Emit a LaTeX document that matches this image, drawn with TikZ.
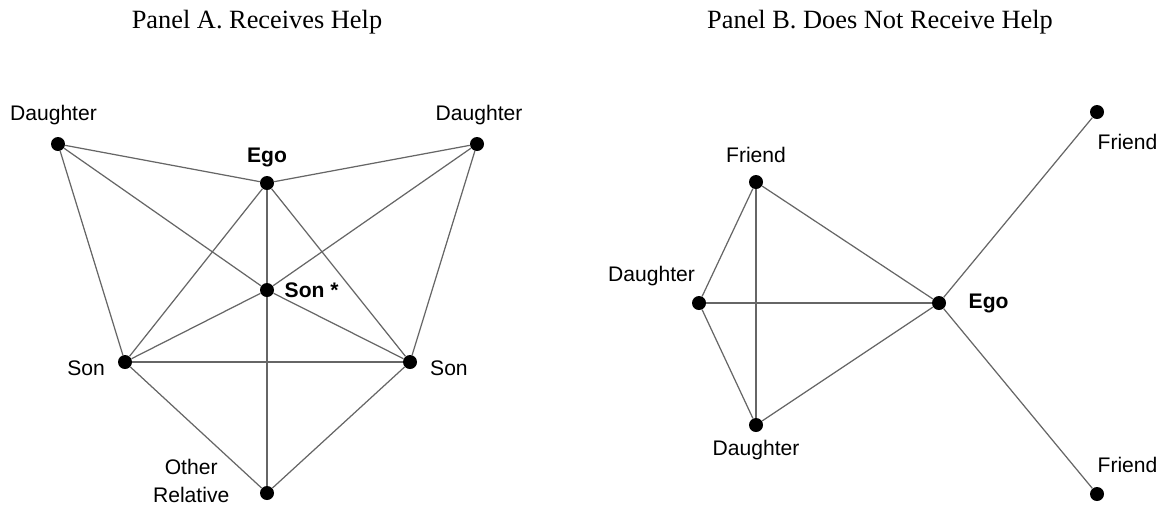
\documentclass[tikz,border=0pt]{standalone}
\usepackage{fontspec}
\setmainfont{Liberation Serif}
\newfontfamily\labelfont{Liberation Sans}
\usetikzlibrary{%
  positioning,
}

\begin{document}
\begin{tikzpicture}[%
           x=0.2mm, y=-0.2mm,
           person/.style={
             % The shape:
             circle,
             % The size:
             minimum size=2.8mm,
             inner sep=0pt,
             % The filling:
             fill=black,
           },
           tag/.style={
             inner sep=0pt,
             font=\labelfont\fontsize{12}{16}\selectfont,
           },
           boldtag/.style={
             tag,
             font=\labelfont\bfseries\fontsize{12}{16}\selectfont,
           },
           title/.style={
             inner sep=0pt,
             anchor=base,
             font=\fontsize{15}{18}\selectfont,
           },
           tie/.style={
             line width=0.7pt,
             color=black!60,
           }]

         \useasboundingbox (0,0) rectangle (1166,508);

         % Panel A
         \node[title] (titleA) at (257,28) {Panel A. Receives Help};
         \node[person] (daughter1) at (58,144) {};
         \node[person] (ego) at (267,183) {};
         \node[person] (daughter2) at (477,144) {};
         \node[person] (sonstar) at (267,290) {};
         \node[person] (son1) at (125,362) {};
         \node[person] (son2) at (410,362) {};
         \node[person] (relative) at (267,493) {};

         \node[tag, above=2.2mm of daughter1, xshift=-0.9mm] {Daughter};
         \node[boldtag, above=1.7mm of ego] {Ego};
         \node[tag, above=2.2mm of daughter2, xshift=0.4mm] {Daughter};
         \node[boldtag, right=2mm of sonstar] {Son *};
         \node[tag, left=2.5mm of son1, yshift=-1.3mm] {Son};
         \node[tag, right=2.5mm of son2, yshift=-1.3mm] {Son};
         \node[tag, align=center, left=6mm of relative, yshift=2.4mm] {Other\\Relative};

         \draw[tie] (daughter1) -- (ego);
         \draw[tie] (daughter1) -- (sonstar);
         \draw[tie] (daughter1) -- (son1);
         \draw[tie] (daughter2) -- (ego);
         \draw[tie] (daughter2) -- (sonstar);
         \draw[tie] (daughter2) -- (son2);
         \draw[tie] (ego) -- (son1);
         \draw[tie] (ego) -- (sonstar);
         \draw[tie] (ego) -- (son2);
         \draw[tie] (sonstar) -- (son1);
         \draw[tie] (sonstar) -- (son2);
         \draw[tie] (sonstar) -- (relative);
         \draw[tie] (son1) -- (son2);
         \draw[tie] (son1) -- (relative);
         \draw[tie] (son2) -- (relative);

         % Panel B
         \node[title] (titleB) at (880,28) {Panel B. Does Not Receive Help};
         \node[person] (friend1) at (756,182) {};
         \node[person] (daughter3) at (699,303) {};
         \node[person] (daughter4) at (756,425) {};
         \node[person] (egoB) at (939,303) {};
         \node[person] (friend2) at (1097,112) {};
         \node[person] (friend3) at (1097,494) {};

         \node[tag, above=2.4mm of friend1] {Friend};
         \node[tag, above=1.8mm of daughter3, xshift=-9.5mm] {Daughter};
         \node[tag, below=1.6mm of daughter4] {Daughter};
         \node[boldtag, right=4.4mm of egoB] {Ego};
         \node[tag, below=2.9mm of friend2, xshift=6.1mm] {Friend};
         \node[tag, above=2.8mm of friend3, xshift=6.1mm] {Friend};

         \draw[tie] (friend1) -- (daughter3);
         \draw[tie] (friend1) -- (daughter4);
         \draw[tie] (friend1) -- (egoB);
         \draw[tie] (daughter3) -- (daughter4);
         \draw[tie] (daughter3) -- (egoB);
         \draw[tie] (daughter4) -- (egoB);
         \draw[tie] (egoB) -- (friend2);
         \draw[tie] (egoB) -- (friend3);
       \end{tikzpicture}
\end{document}
